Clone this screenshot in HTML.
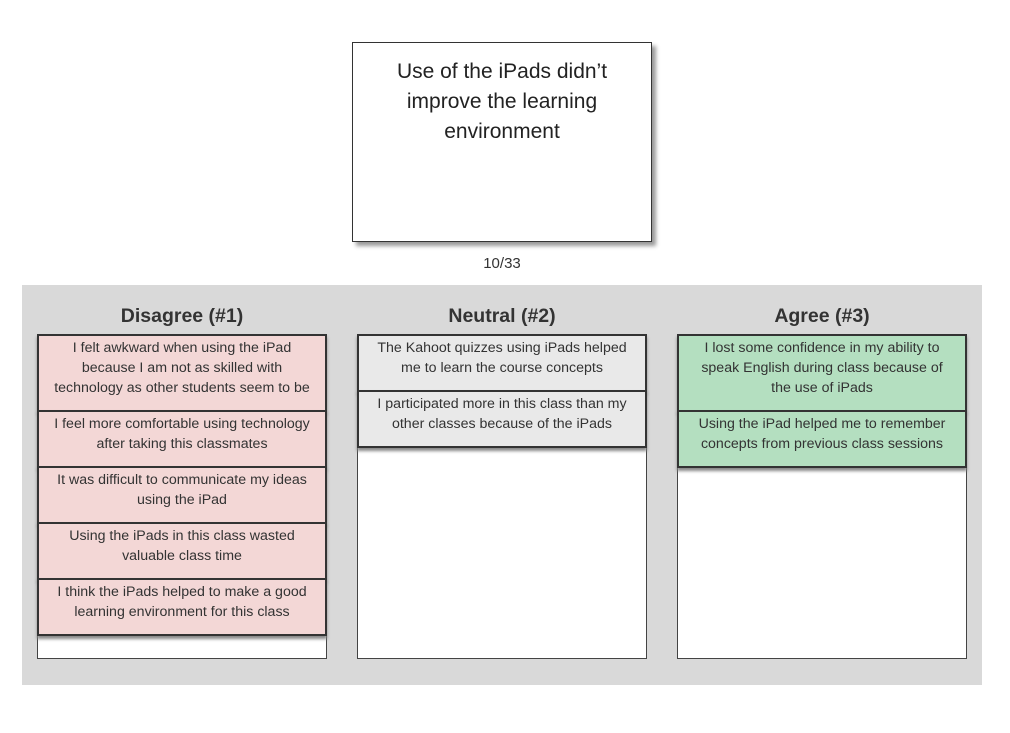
<!DOCTYPE html>
<html><head><meta charset="utf-8"><style>
body{margin:0;width:1010px;height:733px;background:#fff;font-family:"Liberation Sans",Arial,sans-serif;color:#333;position:relative;overflow:hidden}
.a{position:absolute;box-sizing:border-box}
.top{left:352px;top:42px;width:300px;height:200px;border:1px solid #333;background:#fff;box-shadow:4px 4px 4px #999;text-align:center;font-size:21px;line-height:30px;padding-top:14px;color:#222}
.panel{left:22px;top:285px;width:960px;height:400px;background:#d9d9d9}
.col{width:290px;height:325px;top:334px;border:1px solid #444;background:#fff}
.h{top:305px;width:290px;text-align:center;font-weight:bold;font-size:19.5px;color:#333}
.c{left:-1px;width:290px;border:2px solid #333;text-align:center;font-size:14.2px;line-height:20px;padding-top:2px;box-shadow:0 3px 3px #888}
.p{background:#f3d7d6}.n{background:#e9e9e9}.g{background:#b4dfc0}
</style></head><body>
<div class="a top">Use of the iPads didn’t<br>improve the learning<br>environment</div>
<div class="a" style="left:352px;top:255px;width:300px;text-align:center;font-size:15px">10/33</div>
<div class="a panel"></div>
<div class="a h" style="left:37px">Disagree (#1)</div>
<div class="a h" style="left:357px">Neutral (#2)</div>
<div class="a h" style="left:677px">Agree (#3)</div>
<div class="a col" style="left:37px">
<div class="a c p" style="top:-1px;height:78px">I felt awkward when using the iPad<br>because I am not as skilled with<br>technology as other students seem to be</div>
<div class="a c p" style="top:75px;height:58px">I feel more comfortable using technology<br>after taking this classmates</div>
<div class="a c p" style="top:131px;height:58px">It was difficult to communicate my ideas<br>using the iPad</div>
<div class="a c p" style="top:187px;height:58px">Using the iPads in this class wasted<br>valuable class time</div>
<div class="a c p" style="top:243px;height:58px">I think the iPads helped to make a good<br>learning environment for this class</div>
</div>
<div class="a col" style="left:357px">
<div class="a c n" style="top:-1px;height:58px">The Kahoot quizzes using iPads helped<br>me to learn the course concepts</div>
<div class="a c n" style="top:55px;height:58px">I participated more in this class than my<br>other classes because of the iPads</div>
</div>
<div class="a col" style="left:677px">
<div class="a c g" style="top:-1px;height:78px">I lost some confidence in my ability to<br>speak English during class because of<br>the use of iPads</div>
<div class="a c g" style="top:75px;height:58px">Using the iPad helped me to remember<br>concepts from previous class sessions</div>
</div>
</body></html>
